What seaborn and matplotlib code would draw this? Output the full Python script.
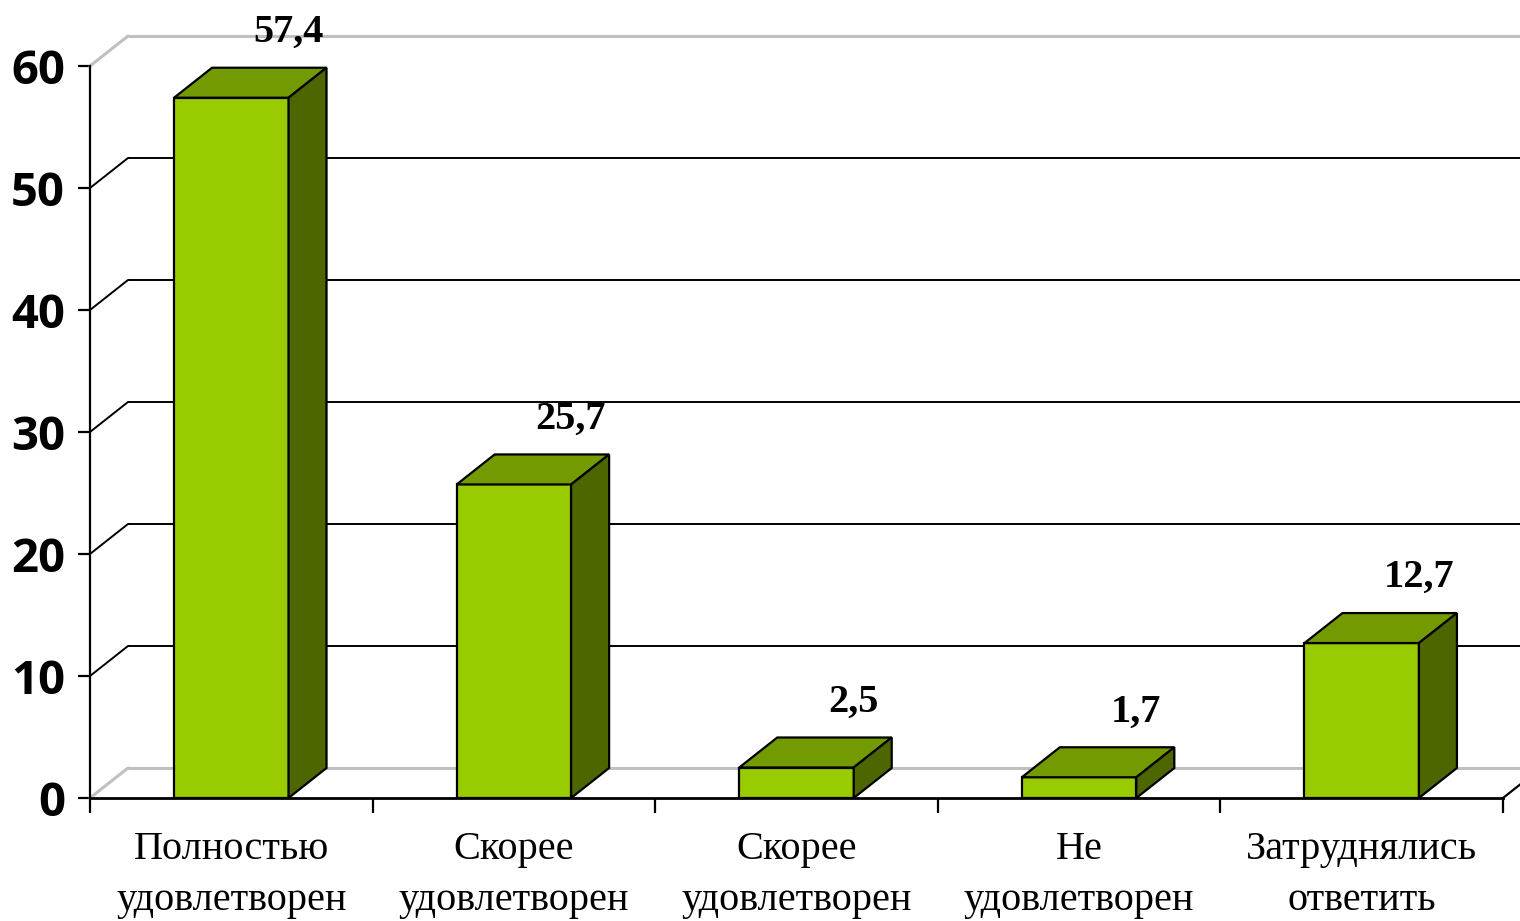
import numpy as np
import matplotlib
matplotlib.use("Agg")
import matplotlib.pyplot as plt
from matplotlib.patches import Polygon
import seaborn as sns

# data
categories = ["Полностью\nудовлетворен", "Скорее\nудовлетворен", "Скорее\nудовлетворен",
              "Не\nудовлетворен", "Затруднялись\nответить"]
values = [57.4, 25.7, 2.5, 1.7, 12.7]
value_labels = ["57,4", "25,7", "2,5", "1,7", "12,7"]
yticks = [0, 10, 20, 30, 40, 50, 60]

front_col = "#99CC00"
top_col = "#739A00"
side_col = "#4D6600"
wall_grey = "#C0C0C0"

sns.set_style("white")
plt.rcParams["text.color"] = "black"
plt.rcParams["xtick.color"] = "black"
plt.rcParams["ytick.color"] = "black"

fig = plt.figure(figsize=(15.2, 9.21), dpi=100)
W, H = 1520, 921
ax = fig.add_axes([90 / W, (H - 798) / H, (1503 - 90) / W, (798 - 66) / H])

# pseudo 3D depth (data units)
dx = 38 / ((1503 - 90) / 5)
dy = 30 / ((798 - 66) / 60)

sns.barplot(x=list(range(len(values))), y=values, color=front_col, width=0.405,
            edgecolor="black", linewidth=1.6, saturation=1, ax=ax, zorder=3)

ax.set_xlim(-0.5, 4.5)
ax.set_ylim(0, 60)

# back wall gridlines + left wall diagonals
x0, x1 = -0.5, 4.5
for t in yticks:
    col = wall_grey if t in (0, 60) else "black"
    lw = 2.2 if t in (0, 60) else 1.4
    ax.plot([x0 + dx, x1 + dx + 0.2], [t + dy, t + dy], color=col, lw=lw,
            clip_on=False, zorder=1, solid_capstyle="butt")
    ax.plot([x0, x0 + dx], [t, t + dy], color=col, lw=lw, clip_on=False, zorder=1)

# right floor edge
ax.plot([x1, x1 + dx], [0, dy], color="black", lw=1.6, clip_on=False, zorder=2)

# top and side faces
for i, p in enumerate(ax.patches):
    bx, bw, bh = p.get_x(), p.get_width(), p.get_height()
    top = Polygon([(bx, bh), (bx + bw, bh), (bx + bw + dx, bh + dy), (bx + dx, bh + dy)],
                  closed=True, facecolor=top_col, edgecolor="black", lw=1.6, zorder=3,
                  clip_on=False)
    side = Polygon([(bx + bw, 0), (bx + bw + dx, dy), (bx + bw + dx, bh + dy), (bx + bw, bh)],
                   closed=True, facecolor=side_col, edgecolor="black", lw=1.6, zorder=3,
                   clip_on=False)
    ax.add_patch(top)
    ax.add_patch(side)
    ax.annotate(value_labels[i], xy=(bx + bw / 2, bh), xytext=(41, 47),
                textcoords="offset points", ha="center", va="center",
                fontsize=29, fontweight="bold", family="Liberation Serif",
                color="black", annotation_clip=False)

# axes styling
for s in ["top", "right"]:
    ax.spines[s].set_visible(False)
ax.spines["left"].set_color("black")
ax.spines["left"].set_linewidth(1.6)
ax.spines["bottom"].set_color("black")
ax.spines["bottom"].set_linewidth(2)
ax.spines["bottom"].set_zorder(4)

ax.set_yticks(yticks)
ax.set_yticklabels([str(t) for t in yticks], fontsize=34, fontweight="bold",
                   family="Open Sans", color="black")
ax.tick_params(axis="y", direction="out", length=9, width=1.6, color="black",
               pad=9, left=True)

ax.set_xticks(range(len(categories)))
ax.set_xticklabels(categories, fontsize=29, family="Liberation Serif",
                   linespacing=1.5, color="black")
ax.set_xticks(np.arange(-0.5, 5, 1), minor=True)
ax.tick_params(axis="x", which="major", length=0, pad=24)
ax.tick_params(axis="x", which="minor", direction="out", length=11, width=1.6,
               color="black", bottom=True)
ax.set_xlabel("")
ax.set_ylabel("")
ax.grid(False)

fig.savefig("out.png", dpi=100)
